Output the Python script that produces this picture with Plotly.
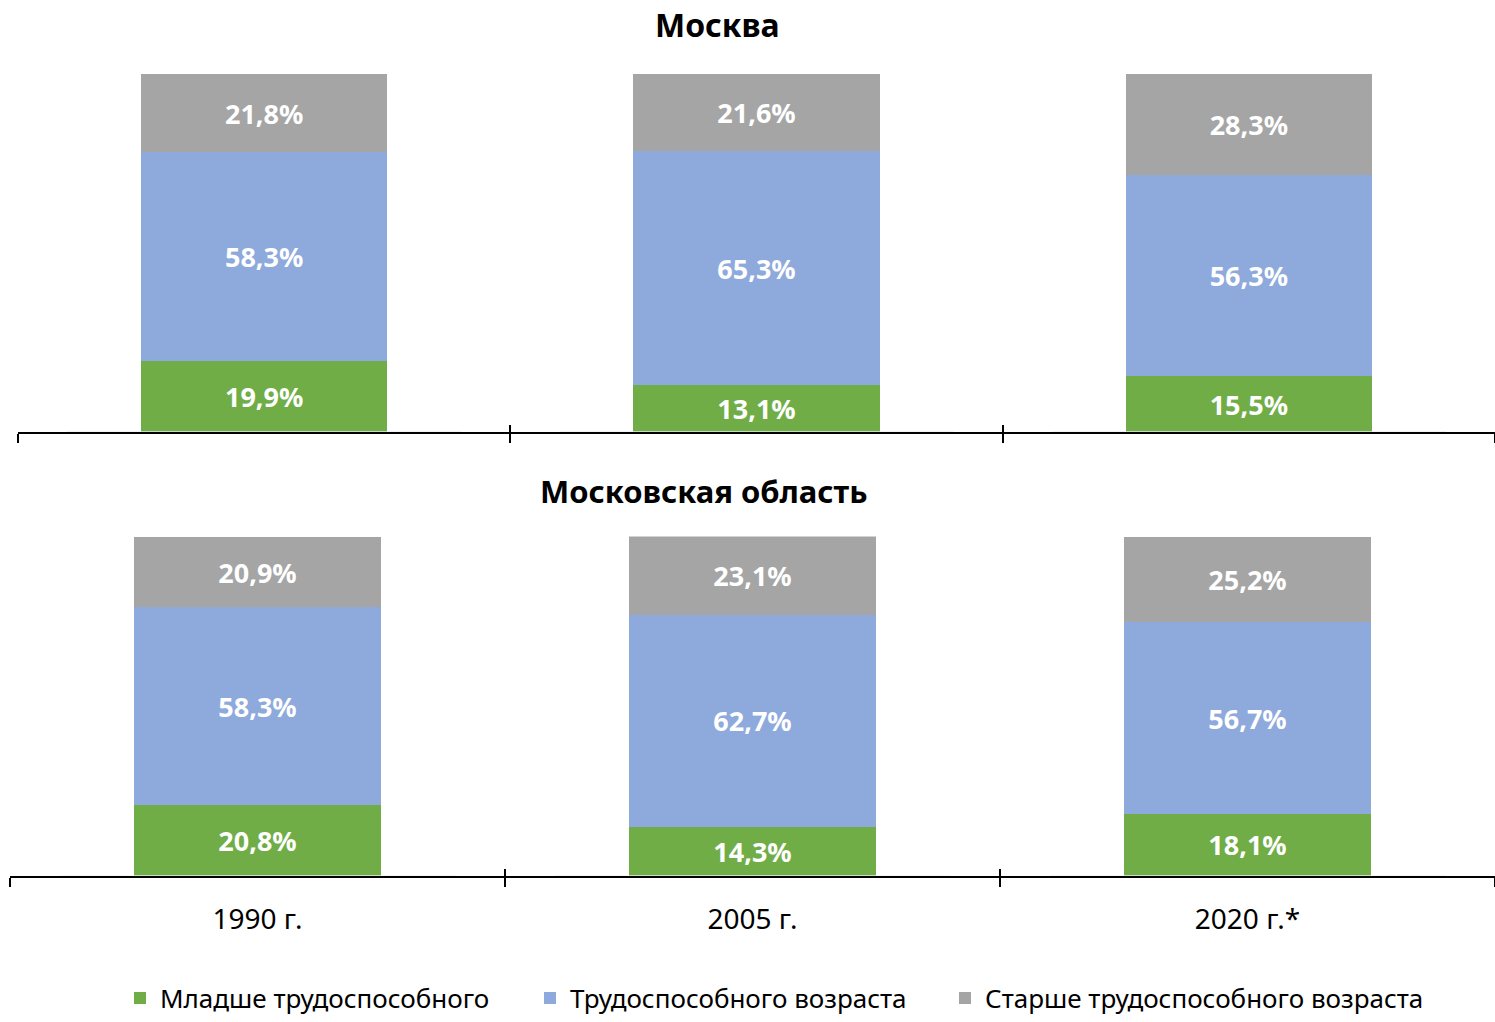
import plotly.graph_objects as go
from plotly.subplots import make_subplots

# Data
years = ["1990 г.", "2005 г.", "2020 г.*"]
series_names = ["Младше трудоспособного", "Трудоспособного возраста", "Старше трудоспособного возраста"]
moscow_young = [19.9, 13.1, 15.5]
moscow_work = [58.3, 65.3, 56.3]
moscow_old = [21.8, 21.6, 28.3]
oblast_young = [20.8, 14.3, 18.1]
oblast_work = [58.3, 62.7, 56.7]
oblast_old = [20.9, 23.1, 25.2]

COLORS = ["#70AD47", "#8EA9DB", "#A5A5A5"]
FONT = "Noto Sans"
W, H = 1495, 1022
LEGEND_NAMES = ["legend", "legend2", "legend3"]
LEGEND_X = [120, 530, 945]


def fmt(v):
    return f"{v:.1f}%".replace(".", ",")


def px_x(p):
    return p / W


def px_y(p):
    return 1 - p / H


fig = make_subplots(rows=2, cols=1)

groups = [(1, [moscow_young, moscow_work, moscow_old]),
          (2, [oblast_young, oblast_work, oblast_old])]
for row, vals in groups:
    for i, series in enumerate(vals):
        fig.add_trace(go.Bar(
            x=years, y=series, name=series_names[i],
            marker=dict(color=COLORS[i], line=dict(width=0)),
            width=0.5,
            text=[fmt(v) for v in series],
            textposition="inside", insidetextanchor="middle",
            textangle=0,
            textfont=dict(family=FONT, size=27, color="white", weight="bold"),
            showlegend=(row == 1),
            legend=LEGEND_NAMES[i],
        ), row=row, col=1)

# invisible traces for overlay axes that draw the upper half of the ticks
for xa, ya in [("x3", "y"), ("x4", "y2")]:
    fig.add_trace(go.Bar(x=years, y=[0, 0, 0], xaxis=xa, yaxis=ya, showlegend=False,
                         hoverinfo="skip", marker=dict(color="rgba(0,0,0,0)")))

tick_common = dict(showline=False, showgrid=False, zeroline=False, ticks="inside", ticklen=7,
                   tickwidth=2, tickcolor="black", tickson="boundaries", showticklabels=False,
                   type="category", categoryarray=years, categoryorder="array",
                   range=[-0.5, 2.5])

legend_common = dict(orientation="h", xanchor="left", y=px_y(1010), yanchor="middle",
                     font=dict(size=26), itemwidth=30, bgcolor="rgba(0,0,0,0)")

fig.update_layout(
    barmode="stack",
    width=W, height=H,
    margin=dict(l=0, r=0, t=0, b=0),
    plot_bgcolor="white", paper_bgcolor="white",
    font=dict(family=FONT, color="black"),
    legend=dict(x=px_x(LEGEND_X[0]), **legend_common),
    legend2=dict(x=px_x(LEGEND_X[1]), **legend_common),
    legend3=dict(x=px_x(LEGEND_X[2]), **legend_common),
    xaxis=dict(domain=[px_x(18), 1], anchor="y", range=[-0.5, 2.5]),
    yaxis=dict(domain=[px_y(437), px_y(75)], anchor="x"),
    xaxis2=dict(domain=[px_x(10), 1], anchor="y2", range=[-0.5, 2.5]),
    yaxis2=dict(domain=[px_y(886), px_y(543)], anchor="x2"),
    xaxis3=dict(domain=[px_x(18), 1], anchor="y", overlaying="x", **tick_common),
    xaxis4=dict(domain=[px_x(10), 1], anchor="y2", overlaying="x2", **tick_common),
)

for r in (1, 2):
    fig.update_xaxes(showline=True, linecolor="black", linewidth=2, showgrid=False,
                     ticks="outside", ticklen=9, tickwidth=2, tickcolor="black",
                     tickson="boundaries", zeroline=False, row=r, col=1)
fig.update_xaxes(showticklabels=False, row=1, col=1)
fig.update_xaxes(tickfont=dict(size=28, color="black"), ticklabelstandoff=18, row=2, col=1)
fig.update_yaxes(range=[0, 100], visible=False, showgrid=False)

fig.add_annotation(text="<b>Москва</b>", x=px_x(717), y=px_y(25), xref="paper", yref="paper",
                   xanchor="center", yanchor="middle",
                   showarrow=False, font=dict(size=32, color="black"))
fig.add_annotation(text="<b>Московская область</b>", x=px_x(704), y=px_y(497), xref="paper",
                   yref="paper", xanchor="center", yanchor="middle",
                   showarrow=False, font=dict(size=31, color="black"))

# remove the default page margin so the figure fills the window exactly
fig.write_html("out.html", config={"displayModeBar": False},
               post_script="document.body.style.margin='0';document.body.style.overflow='hidden';")
